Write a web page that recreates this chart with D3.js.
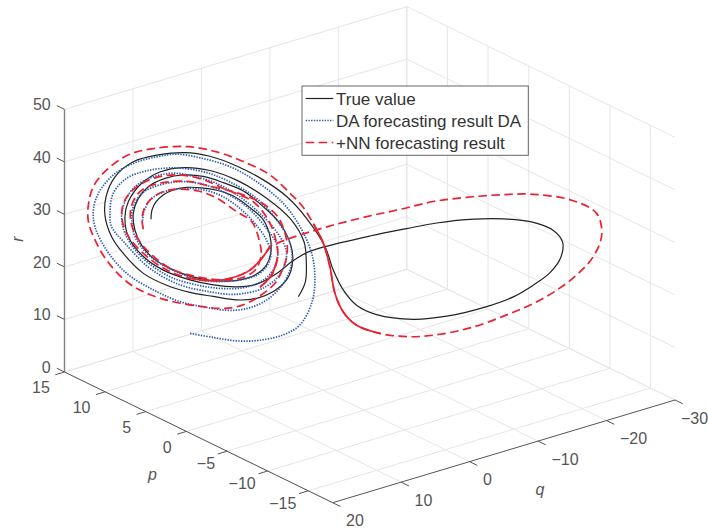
<!DOCTYPE html>
<meta charset="utf-8">
<style>
    body { margin: 0; background: #fff; }
    text { font-family: "Liberation Sans", Arial, sans-serif; font-size: 16px; fill: #555; }
    .legend text { font-size: 17px; fill: #333; }
    .grid line { stroke: #e6e6e6; stroke-width: 1; }
    .ticks line { stroke: #555; stroke-width: 1; }
    path.curve { fill: none; }
</style>
<svg width="708" height="528"></svg>
<script src="https://cdn.jsdelivr.net/npm/d3@7"></script>
<script>

    // axis tick values
    var pTicks = [15, 10, 5, 0, -5, -10, -15];
    var qTicks = [20, 10, 0, -10, -20, -30];
    var rTicks = [0, 10, 20, 30, 40, 50];

    var legendLabels = ["True value", "DA forecasting result DA", "+NN forecasting result"];

    // every point is [p, r]. a flat picture can't give the depth along the view
    // so q is taken equal to p for all three series
    var trueValue = [[11.51,28.4],[11.44,30.2],[11.18,31.8],[10.69,33.3],[10.02,34.5],[9.13,35.3],[8.13,35.6],[7.12,35.5],[6.01,34.8],[4.90,33.0],
        [4.01,31.0],[3.56,28.0],[3.50,25.1],[3.79,22.5],[4.56,20.3],[5.68,18.9],[6.57,18.4],[7.57,18.2],[8.91,18.5],[10.24,19.5],[11.35,21.0],
        [12.13,23.2],[12.58,25.9],[12.69,29.1],[12.36,32.0],[11.69,34.5],[10.57,36.5],[9.35,37.6],[8.02,37.8],[6.68,37.1],[5.34,36.0],
        [4.01,33.5],[2.90,30.7],[2.18,26.9],[2.05,23.7],[2.40,20.4],[3.34,17.6],[4.45,15.9],[5.79,15.1],[7.35,15.2],[8.91,15.4],
        [10.46,16.2],[12.02,17.9],[13.36,21.2],[14.14,24.1],[14.58,27.9],[14.51,31.6],[13.91,35.6],[12.69,38.9],[11.02,40.8],[9.24,41.9],
        [7.57,41.8],[5.79,40.6],[4.01,38.6],[2.45,36.0],[1.11,32.3],[-0.11,27.4],[-0.67,23.1],[-1.33,19.6],[-2.22,17.0],[-3.56,15.7],
        [-6.01,15.7],[-8.24,17.1],[-10.91,19.9],[-12.69,22.4],[-14.02,25.1],[-15.14,27.9],[-15.85,31.0],[-15.98,34.0],[-15.36,36.0],[-13.91,37.1],
        [-12.02,37.0],[-9.79,36.1],[-7.57,34.6],[-5.56,32.8],[-3.11,30.5],[-0.11,27.4],[1.11,25.8],[2.12,23.7],[3.12,21.1],[4.45,18.6],
        [5.79,17.6],[7.35,17.4],[8.91,17.8],[10.69,19.0],[12.02,21.1],[13.02,24.5],[13.25,28.2],[13.02,31.2],[12.13,35.0],[10.91,37.6],
        [9.35,39.0],[7.57,39.1],[5.79,37.9],[3.79,35.2],[2.18,31.8],[1.29,27.8],[1.14,24.1],[1.20,20.2],[1.67,17.2]];

    var daResult = [[12.07,27.9],[11.98,29.6],[11.58,32.0],[10.91,33.5],[10.02,34.6],[8.91,35.2],[7.80,35.2],[6.68,34.4],[5.57,32.6],[4.56,30.1],
        [3.79,27.2],[3.50,24.8],[3.79,22.2],[4.45,20.3],[5.57,19.0],[6.90,18.2],[8.24,18.0],[9.57,18.8],[10.91,20.2],[11.91,22.1],
        [12.58,24.7],[12.80,27.8],[12.73,30.0],[12.24,32.7],[11.35,34.6],[10.24,35.8],[9.13,36.4],[7.80,36.2],[6.46,35.1],[5.12,33.1],
        [3.79,29.4],[3.07,26.2],[3.23,22.4],[4.01,19.5],[5.34,17.6],[6.90,16.9],[8.46,17.0],[10.02,17.7],[11.35,19.4],[12.47,21.9],
        [13.25,25.1],[13.47,28.2],[13.25,31.1],[12.58,34.2],[11.35,36.5],[10.02,37.7],[8.68,37.6],[7.12,36.8],[5.57,34.8],[4.01,31.6],
        [2.90,28.2],[2.45,25.2],[2.89,21.1],[4.01,18.0],[5.34,16.5],[6.23,16.0],[7.57,16.0],[9.57,16.6],[11.58,19.0],[13.25,23.2],
        [14.14,26.0],[14.25,28.5],[14.03,32.4],[13.13,35.6],[11.80,37.5],[10.02,38.7],[8.02,38.7],[6.23,37.4],[4.45,34.9],[3.12,31.3],
        [2.23,27.2],[2.12,23.4],[2.67,19.4],[3.79,15.8],[5.12,13.7],[6.46,12.9],[8.02,13.0],[9.57,13.4],[11.35,15.0],[13.13,17.5],
        [14.47,21.4],[15.25,25.6],[15.36,28.7],[15.03,32.0],[14.03,35.9],[12.69,38.6],[11.13,40.4],[9.80,41.4],[8.02,41.2],[6.23,40.3],
        [4.45,38.1],[2.67,34.6],[1.56,30.6],[0.78,25.8],[0.56,20.8],[0.78,16.3],[1.56,11.9],[2.67,9.6],[4.23,8.0],[5.79,7.3],
        [7.35,7.4],[8.91,7.6]];

    var nnResult = [[12.02,26.3],[12.11,28.3],[11.91,30.6],[11.35,32.7],[10.57,34.1],[9.57,34.8],[8.35,34.9],[7.12,34.0],[5.79,31.9],[4.79,30.4],
        [4.28,27.0],[4.16,24.2],[4.56,21.2],[5.57,19.3],[6.90,18.5],[8.91,18.7],[10.24,19.5],[11.58,21.9],[12.47,24.7],[12.87,27.7],
        [12.80,30.6],[12.24,33.4],[11.35,35.0],[10.24,36.0],[8.91,36.5],[7.57,36.1],[6.23,35.7],[5.12,35.1],[4.12,34.2],[3.01,31.8],
        [2.45,27.7],[2.45,24.5],[2.78,21.6],[3.23,19.2],[4.34,16.2],[5.45,14.2],[6.57,13.2],[8.02,13.0],[10.24,13.3],[11.80,14.2],
        [13.13,15.9],[14.47,19.5],[15.25,23.1],[15.69,26.4],[15.69,29.6],[15.36,33.2],[14.47,36.7],[13.02,40.1],[11.35,41.9],[9.02,43.1],
        [7.12,42.8],[5.34,41.6],[3.56,39.7],[2.23,36.7],[1.45,34.7],[0.67,31.5],[0.00,28.0],[-0.44,23.7],[-0.78,18.7],[-1.33,15.4],
        [-2.22,13.2],[-3.78,12.2],[-5.79,12.3],[-7.79,13.5],[-10.02,15.7],[-12.24,18.8],[-14.02,21.6],[-15.58,24.7],[-16.92,28.1],[-18.03,32.0],
        [-18.59,36.3],[-18.25,40.3],[-16.58,42.2],[-14.02,42.4],[-11.80,41.5],[-9.57,40.2],[-7.34,38.6],[-5.12,36.3],[-2.89,34.1],[-0.67,31.7],
        [1.56,29.0],[2.67,27.5],[3.56,26.0],[4.12,23.6],[4.90,21.1],[6.01,19.3],[7.35,18.2],[8.91,18.1],[10.46,19.1],[12.02,21.7],
        [13.13,25.1],[13.47,28.5],[13.25,31.4],[12.47,34.2],[11.13,36.5],[9.57,37.5],[8.02,37.2],[6.46,35.8],[4.68,34.2],[3.68,31.1],
        [3.23,28.1],[3.05,24.3],[3.45,20.7],[4.23,18.1]];

    // stretches of the red line where the samples are so close the dashes close up
    var nnSolidSpans = [[55, 61], [82, 87], [101, 103]];

    //the box seen from outside, in screen pixels
    var leftCorner = {x: 64.5, y: 372}, frontCorner = {x: 332.7, y: 502.7}, rightCorner = {x: 675, y: 400};
    var boxHeight = 262.7;

    var pScale = d3.scaleLinear().domain([15, -18]).range([0, 1]);
    var qScale = d3.scaleLinear().domain([20, -30]).range([0, 1]);
    var rScale = d3.scaleLinear().domain([0, 50]).range([0, boxHeight]);

    var project = function (p, q, r) {
        var a = pScale(p), b = qScale(q);
        return [
            leftCorner.x + a * (frontCorner.x - leftCorner.x) + b * (rightCorner.x - frontCorner.x),
            leftCorner.y + a * (frontCorner.y - leftCorner.y) + b * (rightCorner.y - frontCorner.y) - rScale(r)
        ];
    };

    var svg = d3.select("svg");
    var pMin = -18, pMax = 15, qMin = -30, qMax = 20;

    var segment = function (g, from, to) {
        g.append("line").attr("x1", from[0]).attr("y1", from[1]).attr("x2", to[0]).attr("y2", to[1]);
    };

    //back walls and floor
    var grid = svg.append("g").attr("class", "grid");
    rTicks.forEach(function (r) {
        segment(grid, project(pMax, qMax, r), project(pMax, qMin, r));
        segment(grid, project(pMax, qMin, r), project(pMin, qMin, r));
    });
    qTicks.forEach(function (q) {
        segment(grid, project(pMax, q, 0), project(pMax, q, 50));
        segment(grid, project(pMax, q, 0), project(pMin, q, 0));
    });
    pTicks.forEach(function (p) {
        segment(grid, project(p, qMin, 0), project(p, qMin, 50));
        segment(grid, project(p, qMin, 0), project(p, qMax, 0));
    });

    //the axes
    var ticks = svg.append("g").attr("class", "ticks");
    segment(ticks, project(pMax, qMax, 0), project(pMin, qMax, 0));
    segment(ticks, project(pMin, qMax, 0), project(pMin, qMin, 0));
    svg.append("line").attr("stroke", "#808080").attr("stroke-width", 1.4)
        .attr("x1", leftCorner.x).attr("y1", project(pMax, qMax, 0)[1])
        .attr("x2", leftCorner.x).attr("y2", project(pMax, qMax, 50)[1]);

    var fmt = d3.format("d");

    rTicks.forEach(function (r) {
        var pos = project(pMax, qMax, r);
        segment(ticks, pos, project(pMax + 0.95, qMax, r));
        svg.append("text").attr("x", pos[0] - 13.8).attr("y", pos[1] + 0.7)
            .attr("text-anchor", "end").text(fmt(r));
    });

    pTicks.forEach(function (p) {
        var pos = project(p, qMax, 0);
        segment(ticks, pos, project(p, qMax + 1.35, 0));
        var neg = p < 0;
        svg.append("text").attr("x", pos[0] + (neg ? -12 : -14.7)).attr("y", pos[1] + (neg ? 17.7 : 21.4))
            .attr("text-anchor", "end").text(fmt(p));
    });

    qTicks.forEach(function (q) {
        var pos = project(pMin, q, 0);
        segment(ticks, pos, project(pMin - 0.95, q, 0));
        // the last label is pushed in so it stays inside the figure
        svg.append("text").attr("x", pos[0] + (q === -30 ? 6 : 13.4)).attr("y", pos[1] + 23.5)
            .text(fmt(q));
    });

    var axisTitle = function (x, y, label, rotate) {
        svg.append("text").style("font-style", "italic")
            .attr("text-anchor", "middle")
            .attr("transform", "translate(" + x + "," + y + ")" + (rotate ? " rotate(-90)" : ""))
            .text(label);
    };
    axisTitle(152.5, 480, "p", false);
    axisTitle(540, 495, "q", false);
    axisTitle(23, 239, "r", true);

    //the three curves
    var line = d3.line().curve(d3.curveCatmullRom.alpha(0.5));
    var toPath = function (points) {
        return line(points.map(function (d) { return project(d[0], d[0], d[1]); }));
    };

    var blackStyle = {stroke: "#222", width: 1.2, dash: null};
    var blueStyle = {stroke: "#2a5cb2", width: 1.7, dash: "1.4 1.3"};
    var redStyle = {stroke: "#ee1f30", width: 1.7, dash: "8.5 4.5"};

    var drawCurve = function (d, style) {
        svg.append("path").attr("class", "curve").attr("d", d)
            .attr("stroke", style.stroke).attr("stroke-width", style.width)
            .attr("stroke-dasharray", style.dash);
    };

    drawCurve(toPath(trueValue), blackStyle);
    drawCurve(toPath(daResult), blueStyle);
    drawCurve(toPath(nnResult), redStyle);
    nnSolidSpans.forEach(function (s) {
        drawCurve(toPath(nnResult.slice(s[0], s[1] + 1)), {stroke: redStyle.stroke, width: redStyle.width, dash: null});
    });

    //legend
    var legend = svg.append("g").attr("class", "legend");
    legend.append("rect").attr("x", 302).attr("y", 86).attr("width", 226.3).attr("height", 69.3)
        .attr("fill", "#fff").attr("stroke", "#666").attr("stroke-width", 1);
    var legendStyles = [blackStyle, blueStyle, redStyle];
    legendLabels.forEach(function (label, i) {
        var y = 98.5 + i * 22;
        legend.append("line").attr("x1", 305.7).attr("x2", 333.3).attr("y1", y).attr("y2", y)
            .attr("stroke", legendStyles[i].stroke).attr("stroke-width", legendStyles[i].width)
            .attr("stroke-dasharray", legendStyles[i].dash);
        legend.append("text").attr("x", 336).attr("y", y + 6.5).text(label);
    });

</script>
